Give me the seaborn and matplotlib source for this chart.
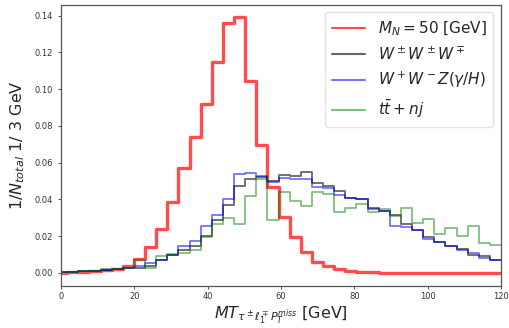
import numpy as np
import pandas as pd
import matplotlib
matplotlib.use("Agg")
import matplotlib.pyplot as plt
from matplotlib.lines import Line2D
import seaborn as sns

# bin edges (approx. 3 GeV wide)
bin_lo = -1.36
bin_hi = 120.0
n_bins = 40

labels = [r"$M_N = 50$ [GeV]", r"$W^\pm W^\pm W^\mp$",
          r"$W^+W^-Z(\gamma/H)$", r"$t\bar{t} + nj$"]

signal = [0.0, 0.0003, 0.0005, 0.001, 0.0015, 0.0022, 0.0035, 0.0078, 0.0141, 0.0241,
          0.0384, 0.0572, 0.0739, 0.092, 0.1149, 0.1358, 0.1394, 0.1046, 0.0697, 0.047,
          0.0302, 0.0196, 0.0114, 0.0061, 0.0035, 0.002, 0.0011, 0.0005, 0.0003, 0.0002,
          0.0002, 0.0002, 0.0001, 0.0001, 0.0001, 0.0001, 0.0001, 0.0001, 0.0001, 0.0001]

www = [0.0003, 0.0006, 0.0008, 0.0012, 0.0016, 0.002, 0.0025, 0.0027, 0.0036, 0.0072,
       0.0096, 0.0127, 0.0145, 0.0203, 0.0286, 0.0367, 0.0475, 0.0511, 0.0521, 0.0500,
       0.0534, 0.0525, 0.0549, 0.0487, 0.0472, 0.0445, 0.0410, 0.0400, 0.0355, 0.0335,
       0.0317, 0.0264, 0.0231, 0.0196, 0.0167, 0.0149, 0.0130, 0.0095, 0.0094, 0.0068]

wwz = [0.0003, 0.0005, 0.0008, 0.0012, 0.0016, 0.002, 0.0028, 0.004, 0.0054, 0.0072,
       0.0096, 0.0145, 0.0172, 0.0257, 0.0313, 0.0404, 0.0541, 0.0543, 0.0528, 0.0495,
       0.0516, 0.0512, 0.0512, 0.0470, 0.0460, 0.0425, 0.0410, 0.0405, 0.0348, 0.0338,
       0.0255, 0.0249, 0.0231, 0.0186, 0.0167, 0.0148, 0.0127, 0.0110, 0.0083, 0.0068]

ttbar = [0.0003, 0.0005, 0.0008, 0.0012, 0.0023, 0.0022, 0.0025, 0.0072, 0.0027, 0.0094,
         0.0105, 0.0109, 0.0123, 0.0194, 0.0266, 0.0299, 0.0264, 0.0418, 0.0510, 0.0290,
         0.0443, 0.0392, 0.0362, 0.0443, 0.0427, 0.0333, 0.0355, 0.0376, 0.0333, 0.0349,
         0.0309, 0.0356, 0.0272, 0.0295, 0.0213, 0.0244, 0.0203, 0.0255, 0.0163, 0.0150]

x_ticks = [0, 20, 40, 60, 80, 100, 120]
y_ticks = [0.00, 0.02, 0.04, 0.06, 0.08, 0.10, 0.12, 0.14]

edges = np.linspace(bin_lo, bin_hi, n_bins + 1)
centers = 0.5 * (edges[:-1] + edges[1:])

sns.set_style("ticks")
plt.rcParams["font.family"] = ["DejaVu Sans"]

fig = plt.figure(figsize=(5.10, 3.28), dpi=100)
ax = fig.add_axes([0.1196, 0.129, 0.8628, 0.8567])

series = [
    (signal, "#ff0000", 2.4, 0.7),
    (www, "#000000", 1.3, 0.6),
    (wwz, "#0000ff", 1.3, 0.55),
    (ttbar, "#008000", 1.3, 0.5),
]
for vals, col, lw, a in series:
    df = pd.DataFrame({"x": centers, "w": vals})
    sns.histplot(data=df, x="x", weights="w", bins=edges.tolist(), element="step",
                 fill=False, color=col, linewidth=lw, alpha=a, ax=ax)

ax.set_xlim(0, 120)
ax.set_ylim(-0.00695, 0.1460)
ax.set_xticks(x_ticks)
ax.set_yticks(y_ticks)
ax.set_yticklabels([f"{v:.2f}" for v in y_ticks])
ax.tick_params(axis="both", labelsize=6, colors="#333333", length=2.5, width=0.6)
ax.tick_params(axis="x", pad=2)
for s in ax.spines.values():
    s.set_color("#555555")
    s.set_linewidth(0.9)

ax.set_xlabel(r"$MT_{\tau^\pm \ell_1^\mp P_T^{miss}}$ [GeV]", fontsize=11.5, labelpad=2)
ax.set_ylabel(r"$1/N_{total}$ 1/ 3 GeV", fontsize=11.5, labelpad=5)

handles = [Line2D([], [], color=c, lw=1.5, alpha=a) for _, c, _, a in series]
leg = ax.legend(handles, labels, loc="upper right", fontsize=11,
                frameon=True, handlelength=2.2, borderpad=0.45, labelspacing=0.5,
                borderaxespad=0.5)
leg.get_frame().set_edgecolor("#dddddd")

fig.savefig("out.png", dpi=100)
